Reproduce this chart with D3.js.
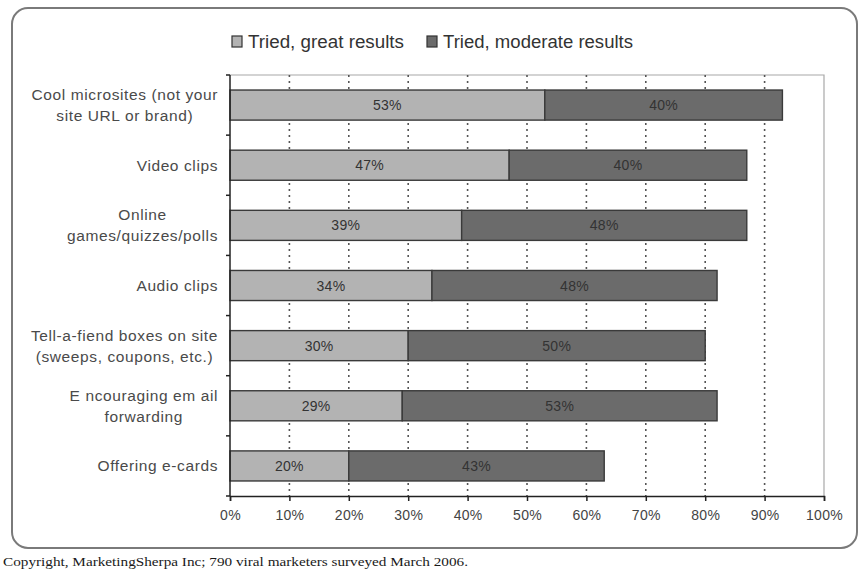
<!DOCTYPE html>
<html>
<head>
<meta charset="utf-8">
<script src="https://cdn.jsdelivr.net/npm/d3@7"></script>
<style>
  html, body { margin: 0; padding: 0; background: #fff; }
  svg { display: block; }
</style>
</head>
<body>
<svg id="chart" width="864" height="572"></svg>
<script>
// Viral marketing tactics: share of marketers reporting each outcome
const categories = [
  ["Cool microsites (not your", "site URL or brand)"],
  ["Video clips"],
  ["Online", "games/quizzes/polls"],
  ["Audio clips"],
  ["Tell-a-fiend boxes on site", "(sweeps, coupons, etc.)"],
  ["E ncouraging em ail", "forwarding"],
  ["Offering e-cards"]
];
const greatResults    = [53, 47, 39, 34, 30, 29, 20];
const moderateResults = [40, 40, 48, 48, 50, 53, 43];
const seriesNames = ["Tried, great results", "Tried, moderate results"];
const seriesColors = ["#b3b3b3", "#6b6b6b"];
const xTicks = [0, 10, 20, 30, 40, 50, 60, 70, 80, 90, 100];
const footnote = "Copyright, MarketingSherpa Inc;  790 viral marketers surveyed March 2006.";

const svg = d3.select("#chart");
const font = "'Liberation Sans', Arial, sans-serif";

const plotLeft = 230, plotRight = 824, plotTop = 75, plotBottom = 496;
const keys = categories.map((c, i) => i);

const x = d3.scaleLinear().domain([0, 100]).range([plotLeft, plotRight]);
const y = d3.scaleBand().domain(keys).range([plotTop, plotBottom])
  .paddingInner(0.5).paddingOuter(0.25);

// outer rounded frame
svg.append("rect")
  .attr("x", 12).attr("y", 8).attr("width", 845).attr("height", 540)
  .attr("rx", 16).attr("ry", 16)
  .attr("fill", "none").attr("stroke", "#7a7a7a").attr("stroke-width", 2);

// plot area border (top and right)
svg.append("path")
  .attr("d", `M${plotLeft},${plotTop}H${plotRight}V${plotBottom}`)
  .attr("fill", "none").attr("stroke", "#a8a8a8").attr("stroke-width", 1.2);

// dotted gridlines
svg.append("g").selectAll("line")
  .data(xTicks.filter(t => t > 0 && t < 100))
  .join("line")
  .attr("x1", d => x(d)).attr("x2", d => x(d))
  .attr("y1", plotTop).attr("y2", plotBottom)
  .attr("stroke", "#555").attr("stroke-width", 1.6)
  .attr("stroke-dasharray", "2,4");

// stacked bars
const rows = keys.map(i => ({
  i,
  segs: [
    { s: 0, x0: 0, x1: greatResults[i], v: greatResults[i] },
    { s: 1, x0: greatResults[i], x1: greatResults[i] + moderateResults[i], v: moderateResults[i] }
  ]
}));

const barG = svg.append("g");
rows.forEach(r => {
  r.segs.forEach(seg => {
    barG.append("rect")
      .attr("x", x(seg.x0))
      .attr("y", y(r.i))
      .attr("width", x(seg.x1) - x(seg.x0))
      .attr("height", y.bandwidth())
      .attr("fill", seriesColors[seg.s])
      .attr("stroke", "#3a3a3a").attr("stroke-width", 1.4);
    barG.append("text")
      .attr("x", (x(seg.x0) + x(seg.x1)) / 2)
      .attr("y", y(r.i) + y.bandwidth() / 2)
      .attr("text-anchor", "middle").attr("dominant-baseline", "central")
      .attr("font-family", font).attr("font-size", 14)
      .attr("letter-spacing", 0.3)
      .attr("fill", "#333")
      .text(seg.v + "%");
  });
});

// left axis with ticks at band boundaries
const gap = (y.step() - y.bandwidth()) / 2;
const bounds = keys.map(k => y(k) - gap).concat([y(keys[keys.length - 1]) + y.bandwidth() + gap]);
const yAxis = svg.append("g");
yAxis.append("line").attr("x1", plotLeft).attr("x2", plotLeft).attr("y1", plotTop).attr("y2", plotBottom)
  .attr("stroke", "#222").attr("stroke-width", 1.5);
yAxis.selectAll("line.tick").data(bounds).join("line").attr("class", "tick")
  .attr("x1", plotLeft - 4).attr("x2", plotLeft).attr("y1", d => d).attr("y2", d => d)
  .attr("stroke", "#222").attr("stroke-width", 1.5);

// category labels: centered lines, block right-aligned
keys.forEach(i => {
  const lines = categories[i];
  const g = svg.append("g");
  const lh = 21;
  const cy = y(i) + y.bandwidth() / 2;
  const texts = lines.map((ln, j) => g.append("text")
    .attr("y", cy + (j - (lines.length - 1) / 2) * lh)
    .attr("dominant-baseline", "central")
    .attr("text-anchor", "middle")
    .attr("font-family", font).attr("font-size", 15.5)
    .attr("letter-spacing", 0.6)
    .attr("fill", "#4a4a4a")
    .text(ln));
  const maxW = d3.max(texts, t => t.node().getComputedTextLength());
  texts.forEach(t => t.attr("x", 218 - maxW / 2));
});

// bottom axis
const xAxis = svg.append("g").attr("transform", `translate(0,${plotBottom})`)
  .call(d3.axisBottom(x).tickValues(xTicks).tickFormat(d => d + "%").tickSize(5).tickPadding(9));
xAxis.select(".domain").attr("stroke", "#222").attr("stroke-width", 1.5);
xAxis.selectAll(".tick line").attr("stroke", "#222").attr("stroke-width", 1.5);
xAxis.selectAll(".tick text").attr("font-family", font).attr("font-size", 14)
  .attr("letter-spacing", 0.3).attr("fill", "#444");

// legend
const legend = svg.append("g");
const legendX = [232, 427];
const legendW = [156, 190];
seriesNames.forEach((name, i) => {
  legend.append("rect")
    .attr("x", legendX[i]).attr("y", 36).attr("width", 10).attr("height", 11)
    .attr("fill", seriesColors[i]).attr("stroke", "#333").attr("stroke-width", 1.2);
  legend.append("text")
    .attr("x", legendX[i] + 16).attr("y", 42)
    .attr("dominant-baseline", "central")
    .attr("font-family", font).attr("font-size", 17.5)
    .attr("textLength", legendW[i]).attr("lengthAdjust", "spacingAndGlyphs")
    .attr("fill", "#333")
    .text(name);
});

// footnote
svg.append("text")
  .attr("x", 3).attr("y", 566)
  .attr("font-family", "'Liberation Serif', 'Times New Roman', serif")
  .attr("font-size", 13.5).attr("fill", "#1a1a1a")
  .attr("textLength", 465).attr("lengthAdjust", "spacingAndGlyphs")
  .text(footnote);
</script>
</body>
</html>
